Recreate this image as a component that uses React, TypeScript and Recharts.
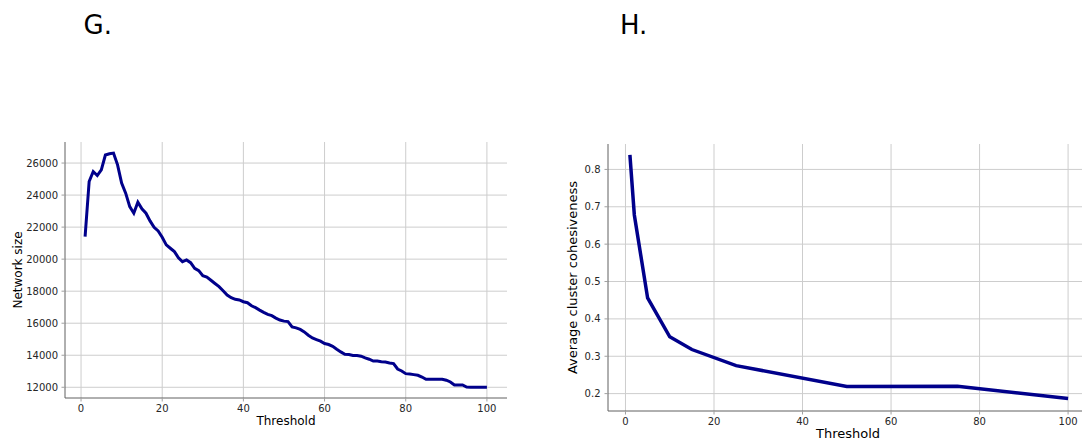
import React from 'react';
import { LineChart, Line, XAxis, YAxis, CartesianGrid } from 'recharts';

const thresholdsG = [
  1, 2, 3, 4, 5, 6, 7, 8, 9, 10, 11, 12, 13, 14, 15, 16, 17, 18, 19, 20,
  21, 22, 23, 24, 25, 26, 27, 28, 29, 30, 31, 32, 33, 34, 35, 36, 37, 38, 39, 40,
  41, 42, 43, 44, 45, 46, 47, 48, 49, 50, 51, 52, 53, 54, 55, 56, 57, 58, 59, 60,
  61, 62, 63, 64, 65, 66, 67, 68, 69, 70, 71, 72, 73, 74, 75, 76, 77, 78, 79, 80,
  81, 82, 83, 84, 85, 86, 87, 88, 89, 90, 91, 92, 93, 94, 95, 96, 97, 98, 99, 100,
];
const networkSize = [
  21400, 24850, 25470, 25220, 25580, 26500, 26580, 26620, 25890, 24750,
  24120, 23280, 22870, 23560, 23140, 22870, 22390, 21990, 21760, 21370,
  20890, 20680, 20470, 20090, 19840, 19950, 19780, 19430, 19280, 18960,
  18880, 18680, 18480, 18280, 18030, 17760, 17590, 17490, 17450, 17340,
  17280, 17090, 16970, 16820, 16680, 16550, 16470, 16320, 16200, 16130,
  16100, 15770, 15710, 15610, 15460, 15250, 15080, 14980, 14880, 14730,
  14670, 14560, 14380, 14210, 14060, 14040, 13980, 13980, 13940, 13830,
  13750, 13640, 13640, 13600, 13580, 13520, 13480, 13140, 13020, 12850,
  12830, 12790, 12750, 12640, 12500, 12500, 12500, 12500, 12500, 12440,
  12330, 12140, 12140, 12140, 12010, 12000, 12000, 12000, 12000, 12000,
];
const thresholdsH = [1, 2, 5, 10, 15, 25, 50, 75, 100];
const cohesiveness = [0.839, 0.678, 0.456, 0.352, 0.318, 0.275, 0.219, 0.22, 0.187];

const xTicks = [0, 20, 40, 60, 80, 100];
const yTicksG = [12000, 14000, 16000, 18000, 20000, 22000, 24000, 26000];
const yTicksH = [0.2, 0.3, 0.4, 0.5, 0.6, 0.7, 0.8];

const dataG = thresholdsG.map((t, i) => ({ t, v: networkSize[i] }));
const dataH = thresholdsH.map((t, i) => ({ t, v: cohesiveness[i] }));

const FONT = 'DejaVu Sans, sans-serif';
const LINE = '#00008B';
const SPINE = '#606060';
const GRID = '#cdcdcd';
const TICK = '#a0a0a0';
const TXT = '#262626';
const tickStyle = { fontSize: 10, fill: TXT, fontFamily: FONT };

export default function App() {
  return (
    <div style={{ position: 'absolute', left: 0, top: 0, width: 1082, height: 441, overflow: 'hidden', background: '#fff' }}>
      <svg width={1082} height={60} style={{ position: 'absolute', left: 0, top: 0 }}>
        <text x={83.5} y={34} fontSize={26} fontFamily={FONT} fill="#000">G.</text>
        <text x={620} y={33.5} fontSize={26} fontFamily={FONT} fill="#000">H.</text>
      </svg>

      <div style={{ position: 'absolute', left: 0, top: 0 }}>
        <LineChart width={530} height={441} data={dataG} margin={{ top: 142, right: 23, bottom: 0, left: 0 }}>
          <CartesianGrid stroke={GRID} strokeWidth={1} verticalValues={xTicks} horizontalValues={yTicksG} />
          <XAxis
            dataKey="t"
            type="number"
            domain={[-3.95, 104.95]}
            allowDataOverflow
            ticks={xTicks}
            height={43}
            tickLine={{ stroke: TICK }}
            tickSize={3.5}
            tickMargin={3.5}
            axisLine={{ stroke: SPINE }}
            tick={tickStyle}
            label={{
              content: () => (
                <text x={286} y={425} textAnchor="middle" fontSize={12} fontFamily={FONT} fill="#000">Threshold</text>
              ),
            }}
          />
          <XAxis xAxisId="top" orientation="top" type="number" domain={[-3.95, 104.95]} allowDataOverflow height={0} tick={false} tickLine={false} axisLine={{ stroke: SPINE }} />
          <YAxis
            type="number"
            domain={[11330, 27315]}
            allowDataOverflow
            ticks={yTicksG}
            width={65}
            tickLine={{ stroke: TICK }}
            tickSize={3.5}
            tickMargin={3.5}
            axisLine={{ stroke: SPINE }}
            tick={tickStyle}
            label={{
              content: () => (
                <text x={21.5} y={270} transform="rotate(-90, 21.5, 270)" textAnchor="middle" fontSize={12} fontFamily={FONT} fill="#000">Network size</text>
              ),
            }}
          />
          <YAxis yAxisId="right" orientation="right" type="number" domain={[11330, 27315]} allowDataOverflow width={0} tick={false} tickLine={false} axisLine={{ stroke: SPINE }} />
          <Line type="linear" dataKey="v" stroke={LINE} strokeWidth={3} dot={false} isAnimationActive={false} />
        </LineChart>
      </div>

      <div style={{ position: 'absolute', left: 540, top: 0 }}>
        <LineChart width={560} height={441} data={dataH} margin={{ top: 144, right: 10, bottom: 0, left: 0 }}>
          <CartesianGrid stroke={GRID} strokeWidth={1} verticalValues={xTicks} horizontalValues={yTicksH} />
          <XAxis
            dataKey="t"
            type="number"
            domain={[-3.95, 104.95]}
            allowDataOverflow
            ticks={xTicks}
            height={30}
            tickLine={{ stroke: TICK }}
            tickSize={3.5}
            tickMargin={3.5}
            axisLine={{ stroke: SPINE }}
            tick={tickStyle}
            label={{
              content: () => (
                <text x={308} y={438} textAnchor="middle" fontSize={13} fontFamily={FONT} fill="#000">Threshold</text>
              ),
            }}
          />
          <XAxis xAxisId="top" orientation="top" type="number" domain={[-3.95, 104.95]} allowDataOverflow height={0} tick={false} tickLine={false} axisLine={{ stroke: SPINE }} />
          <YAxis
            type="number"
            domain={[0.1535, 0.868]}
            allowDataOverflow
            ticks={yTicksH}
            width={68}
            tickLine={{ stroke: TICK }}
            tickSize={3.5}
            tickMargin={4}
            axisLine={{ stroke: SPINE }}
            tick={tickStyle}
            tickFormatter={(v: number) => v.toFixed(1)}
            label={{
              content: () => (
                <text x={37} y={277.5} transform="rotate(-90, 37, 277.5)" textAnchor="middle" fontSize={13} fontFamily={FONT} fill="#000">Average cluster cohesiveness</text>
              ),
            }}
          />
          <YAxis yAxisId="right" orientation="right" type="number" domain={[0.1535, 0.868]} allowDataOverflow width={0} tick={false} tickLine={false} axisLine={{ stroke: SPINE }} />
          <Line type="linear" dataKey="v" stroke={LINE} strokeWidth={3.5} dot={false} isAnimationActive={false} />
        </LineChart>
      </div>
    </div>
  );
}
